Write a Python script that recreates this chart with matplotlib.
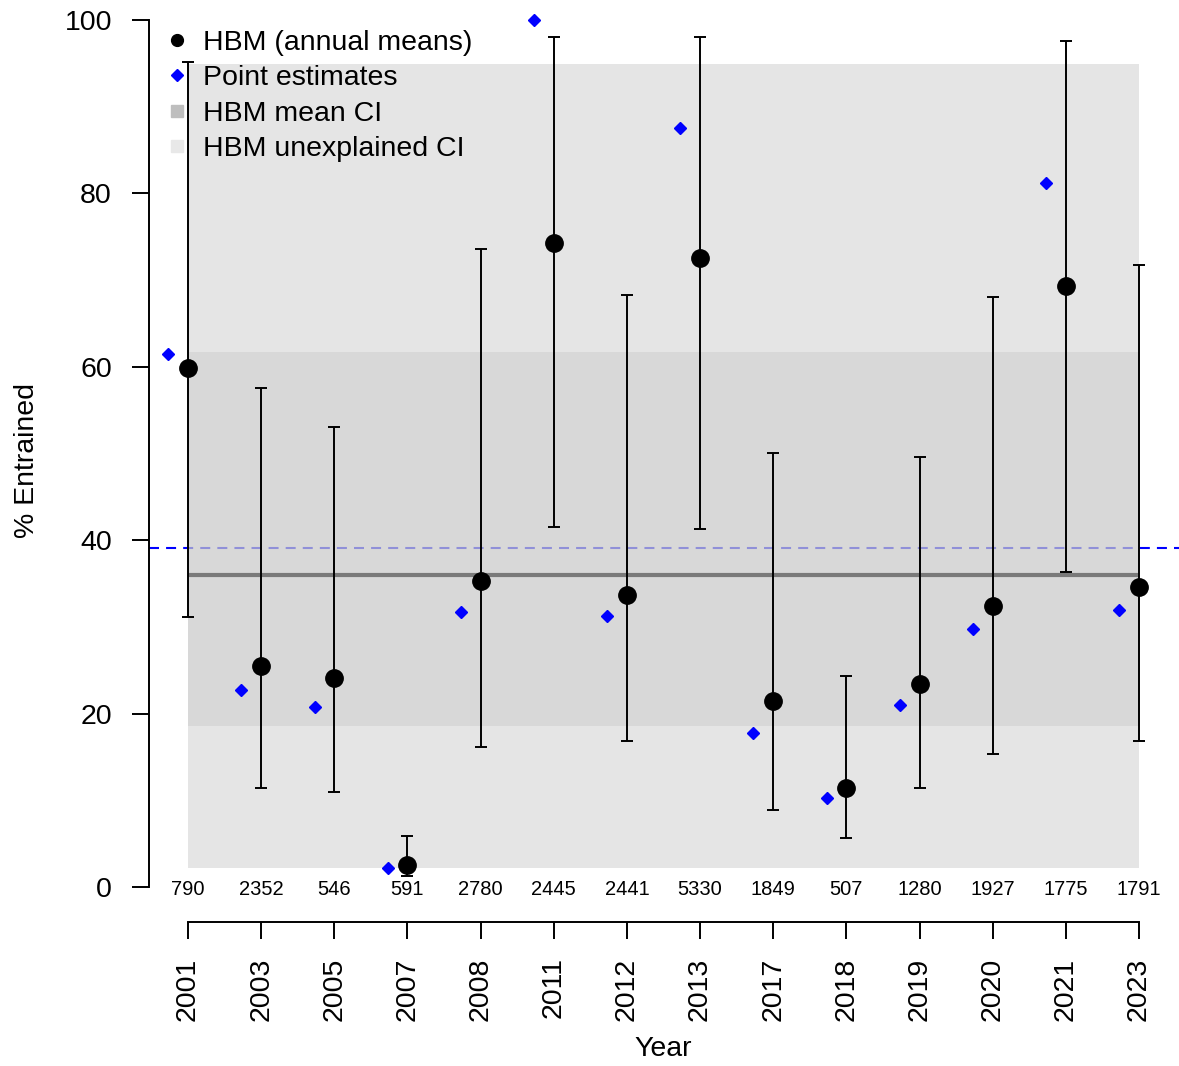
import matplotlib
matplotlib.use("Agg")
import matplotlib.pyplot as plt
from matplotlib.lines import Line2D
import numpy as np

plt.rcParams['font.family'] = ['Liberation Sans', 'DejaVu Sans']

# ---- data -------------------------------------------------------------
years = ["2001", "2003", "2005", "2007", "2008", "2011", "2012",
         "2013", "2017", "2018", "2019", "2020", "2021", "2023"]
sample_sizes = ["790", "2352", "546", "591", "2780", "2445", "2441",
                "5330", "1849", "507", "1280", "1927", "1775", "1791"]
hbm_mean = [59.9, 25.5, 24.1, 2.5, 35.3, 74.3, 33.7,
            72.5, 21.5, 11.4, 23.4, 32.4, 69.3, 34.6]
hbm_upper = [95.1, 57.5, 53.1, 5.9, 73.6, 98.0, 68.3,
             98.0, 50.1, 24.3, 49.6, 68.1, 97.6, 71.7]
hbm_lower = [31.1, 11.4, 11.0, 1.3, 16.2, 41.5, 16.8,
             41.3, 8.9, 5.7, 11.4, 15.3, 36.3, 16.8]
point_est = [61.5, 22.7, 20.8, 2.2, 31.7, 100.0, 31.3,
             87.6, 17.8, 10.3, 21.0, 29.8, 81.2, 31.9]

overall_mean = 36.0
mean_ci = (18.6, 61.7)
unexplained_ci = (2.2, 94.9)
pooled_estimate = 39.05

# ---- figure -------------------------------------------------------------
W, H = 1179, 1066
fig = plt.figure(figsize=(W / 100, H / 100), dpi=100)
ax = fig.add_axes([149 / W, (H - 922) / H, 1 - 149 / W, (922 - 10) / H])

x = np.arange(len(years))
offset = 0.27

px_per_unit = (887 - 20) / 100.0
ax.set_ylim(-(922 - 887) / px_per_unit, (887 - 10) / px_per_unit)
px_per_idx = (1139 - 188) / 13.0
ax.set_xlim(-(188 - 149) / px_per_idx, (W - 188) / px_per_idx)

# pooled point estimate (drawn beneath the translucent bands)
ax.axhline(pooled_estimate, color=(0, 0, 1), lw=1.5,
           linestyle=(0, (4.8, 3.4)), zorder=1)

# confidence bands
ax.fill_between([x[0], x[-1]], unexplained_ci[0], unexplained_ci[1],
                color=(213 / 255,) * 3, alpha=0.6, lw=0, zorder=2)
ax.fill_between([x[0], x[-1]], mean_ci[0], mean_ci[1],
                color=(186 / 255,) * 3, alpha=0.3, lw=0, zorder=3)

# overall HBM mean
ax.hlines(overall_mean, x[0], x[-1], color="#7a7a7a", lw=3, zorder=4)

# annual means with credible intervals
mean_arr = np.array(hbm_mean)
yerr = np.vstack([mean_arr - np.array(hbm_lower),
                  np.array(hbm_upper) - mean_arr])
ax.errorbar(x, mean_arr, yerr=yerr, fmt="none", ecolor="black",
            elinewidth=1.4, capsize=4.1, capthick=1.4, zorder=5)
ax.plot(x, mean_arr, "o", color="black", ms=12.5, zorder=6)

# point estimates
ax.plot(x - offset, point_est, "D", color=(0, 0, 1), ms=5.8,
        zorder=7, clip_on=False)

# sample sizes along the bottom
for xi, n in zip(x, sample_sizes):
    ax.text(xi, -0.3, n, ha="center", va="center", fontsize=14.5,
            color="black", zorder=8)

# axes styling
for side in ("top", "right"):
    ax.spines[side].set_visible(False)
ax.spines["left"].set_bounds(0, 100)
ax.spines["bottom"].set_bounds(x[0], x[-1])
for side in ("left", "bottom"):
    ax.spines[side].set_linewidth(1.4)

ax.set_yticks([0, 20, 40, 60, 80, 100])
ax.set_xticks(x)
ax.set_xticklabels(years, rotation=90)
ax.tick_params(axis="y", length=12.2, width=1.4, pad=14.5, labelsize=20.5)
ax.tick_params(axis="x", length=12.5, width=1.4, pad=13, labelsize=20.5)

ax.set_xlabel("Year", fontsize=20.5)
ax.xaxis.set_label_coords((663 - 149) / (W - 149), (922 - 1036) / 912)
fig.text(27 / W, 1 - 461 / H, "% Entrained", rotation=90, ha="center",
         va="center", fontsize=20.5)

# legend
handles = [
    Line2D([], [], ls="none", marker="o", color="black", ms=8.5),
    Line2D([], [], ls="none", marker="D", color=(0, 0, 1), ms=6),
    Line2D([], [], ls="none", marker="s", color="#bebebe", ms=9),
    Line2D([], [], ls="none", marker="s", color="#e8e8e8", ms=9),
]
labels = ["HBM (annual means)", "Point estimates", "HBM mean CI",
          "HBM unexplained CI"]
ax.legend(handles, labels, loc="upper left",
          bbox_to_anchor=(165.6 / W, 1 - 30 / H),
          bbox_transform=fig.transFigure, frameon=False, fontsize=20.5,
          handlelength=0.8, handletextpad=0.51, labelspacing=0.33,
          borderpad=0, borderaxespad=0)

fig.savefig("out.png", dpi=100)
